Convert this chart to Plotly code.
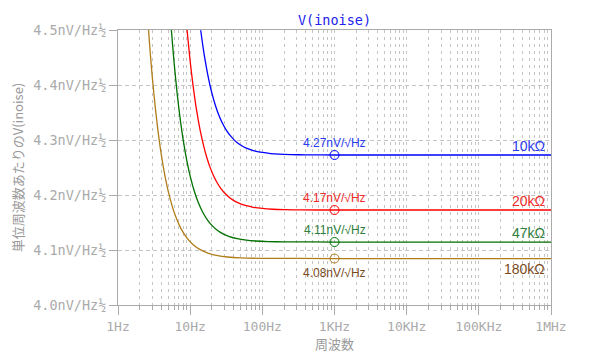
import plotly.graph_objects as go

# ---- data (noise density in nV/√Hz vs frequency in Hz) ----
freq_10k = [14, 15, 16, 18, 20, 22.5, 25, 28, 32, 36, 40, 45, 50, 60, 70, 80, 100, 130, 170, 250, 400,
            1000, 10000, 100000, 1000000]
vn_10k = [4.4996, 4.4709, 4.4474, 4.4113, 4.3853, 4.3619, 4.3451, 4.3305, 4.3171, 4.3078, 4.3012, 4.2952,
          4.2909, 4.2853, 4.2820, 4.2798, 4.2773, 4.2754, 4.2743, 4.2735, 4.2730,
          4.2727, 4.2727, 4.2727, 4.2727]

freq_20k = [8.5, 9, 10, 11, 12, 13, 14, 15.5, 17, 19, 21, 24, 27, 31, 36, 42, 50, 60, 75, 100, 140, 200, 350,
            1000, 10000, 100000, 1000000]
vn_20k = [4.5427, 4.5042, 4.4431, 4.3974, 4.3622, 4.3348, 4.3128, 4.2874, 4.2682, 4.2493, 4.2356, 4.2209,
          4.2108, 4.2017, 4.1942, 4.1885, 4.1839, 4.1805, 4.1777, 4.1755, 4.1741, 4.1734, 4.1729,
          4.1727, 4.1727, 4.1727, 4.1727]

freq_47k = [5, 5.4, 6, 6.6, 7.3, 8, 9, 10, 11.5, 13, 15, 17.5, 20, 24, 29, 35, 45, 60, 80, 120, 200,
            1000, 10000, 100000, 1000000]
vn_47k = [4.5748, 4.5120, 4.4393, 4.3846, 4.3366, 4.3002, 4.2619, 4.2343, 4.2054, 4.1858, 4.1681, 4.1540,
          4.1448, 4.1355, 4.1289, 4.1244, 4.1205, 4.1179, 4.1164, 4.1153, 4.1148,
          4.1145, 4.1145, 4.1145, 4.1145]

freq_180k = [2.4, 2.6, 2.8, 3.0, 3.3, 3.6, 4.0, 4.5, 5.0, 5.7, 6.5, 7.5, 9, 11, 14, 18, 24, 33, 50, 90,
             1000, 10000, 100000, 1000000]
vn_180k = [4.5851, 4.5146, 4.4578, 4.4115, 4.3565, 4.3142, 4.2715, 4.2329, 4.2051, 4.1776, 4.1563, 4.1385,
           4.1221, 4.1097, 4.1001, 4.0939, 4.0898, 4.0873, 4.0857, 4.0849,
           4.0845, 4.0845, 4.0845, 4.0845]

series_names = ["10kΩ", "20kΩ", "47kΩ", "180kΩ"]
marker_freq = 1000
marker_vals = [4.2727, 4.1727, 4.1145, 4.0845]
marker_texts = ["4.27nV/√Hz", "4.17nV/√Hz", "4.11nV/√Hz", "4.08nV/√Hz"]

y_tick_vals = [4.0, 4.1, 4.2, 4.3, 4.4, 4.5]
y_tick_text = ["4.0nV/Hz½", "4.1nV/Hz½", "4.2nV/Hz½", "4.3nV/Hz½", "4.4nV/Hz½", "4.5nV/Hz½"]
x_tick_vals = [1, 10, 100, 1000, 10000, 100000, 1000000]
x_tick_text = ["1Hz", "10Hz", "100Hz", "1KHz", "10KHz", "100KHz", "1MHz"]

line_colors = ["#0000ff", "#ff0000", "#007000", "#b07c18"]
text_colors = ["#2a3cf0", "#ee2a2a", "#2e7d3a", "#7a4a1c"]

mono = "DejaVu Sans Mono"
sans = "Liberation Sans"
gray = "#aaaaaa"

fig = go.Figure()
all_f = [freq_10k, freq_20k, freq_47k, freq_180k]
all_v = [vn_10k, vn_20k, vn_47k, vn_180k]
for f, v, c, n in zip(all_f, all_v, line_colors, series_names):
    fig.add_trace(go.Scatter(x=f, y=v, mode="lines", name=n,
                             line=dict(color=c, width=1.3, shape="spline", smoothing=0.6),
                             cliponaxis=True, showlegend=False))

# markers at 1kHz
for val, c in zip(marker_vals, line_colors):
    fig.add_trace(go.Scatter(x=[marker_freq], y=[val], mode="markers",
                             marker=dict(symbol="circle-open", size=9, color=c, line=dict(width=1)),
                             showlegend=False))

annotations = []
shifts = [12, 12, 12, -14]
for val, t, c, s in zip(marker_vals, marker_texts, text_colors, shifts):
    annotations.append(dict(x=3, y=val, xref="x", yref="y", text=t, showarrow=False,
                            yshift=s, font=dict(family=sans, size=12, color=c)))
name_shifts = [9, 9, 9, -10]
for val, t, c, s in zip(marker_vals, series_names, text_colors, name_shifts):
    annotations.append(dict(x=0.99, y=val, xref="paper", yref="y", text=t, showarrow=False,
                            xanchor="right", yshift=s, font=dict(family=sans, size=14, color=c)))

fig.update_layout(
    width=600, height=361,
    margin=dict(l=118, r=49, t=30, b=56),
    paper_bgcolor="white", plot_bgcolor="white",
    title=dict(text="V(inoise)", x=0.5575, xanchor="center", y=0.945, yanchor="middle",
               font=dict(family=mono, size=13.5, color="#2222ee")),
    annotations=annotations,
    xaxis=dict(type="log", range=[0, 6], tickvals=x_tick_vals, ticktext=x_tick_text,
               tickfont=dict(family=mono, size=13, color=gray),
               showline=True, linecolor=gray, linewidth=1, mirror=True,
               ticks="outside", ticklen=9, tickcolor=gray,
               showgrid=True, gridcolor="#c4c4c4", griddash="3px,4px", gridwidth=1,
               minor=dict(dtick="D1", ticks="outside", ticklen=4, tickcolor=gray,
                          showgrid=True, gridcolor="#c4c4c4", griddash="3px,4px", gridwidth=1),
               title=dict(text="周波数", font=dict(family="Noto Sans CJK JP", size=13, color="#999999"),
                          standoff=0),
               zeroline=False, automargin=False),
    yaxis=dict(range=[4.0, 4.5], tickvals=y_tick_vals, ticktext=y_tick_text,
               tickfont=dict(family=mono, size=13.5, color=gray),
               showline=True, linecolor=gray, linewidth=1, mirror=True,
               ticks="outside", ticklen=8, tickcolor=gray,
               showgrid=True, gridcolor="#c4c4c4", griddash="4px,3px", gridwidth=1,
               title=dict(text="単位周波数あたりのV(inoise)",
                          font=dict(family="Noto Sans CJK JP", size=13, color="#999999"),
                          standoff=6),
               zeroline=False, automargin=False),
)

fig.write_html("out.html", config={"displayModeBar": False},
               post_script="document.body.style.margin='0';")
